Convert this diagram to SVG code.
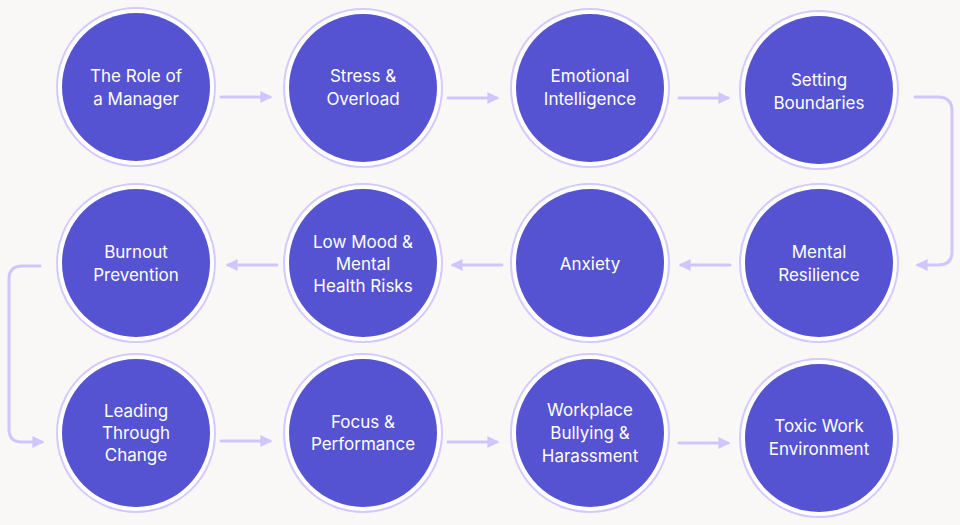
<svg xmlns="http://www.w3.org/2000/svg" width="960" height="525" viewBox="0 0 960 525">
<defs>
<style>
.ring{fill:#ffffff;stroke:#d3caff;stroke-width:2}
.core{fill:#5553d1}
.t{font-family:Inter,"Open Sans",sans-serif;font-size:17px;fill:#ffffff;text-anchor:middle}
.c{fill:none;stroke:#d0c6fd;stroke-width:3;stroke-linecap:round;stroke-linejoin:round}
</style>
<marker id="ah" viewBox="0 0 10 10" refX="8" refY="5" markerWidth="4" markerHeight="4" orient="auto"><path d="M0,0L10,5L0,10z" fill="#d0c6fd"/></marker>
</defs>
<rect width="960" height="525" fill="#f9f8f7"/>
<g id="connectors">
<path class="c" marker-end="url(#ah)" d="M221,97H270"/>
<path class="c" marker-end="url(#ah)" d="M448,98H497"/>
<path class="c" marker-end="url(#ah)" d="M679,98H728"/>
<path class="c" marker-end="url(#ah)" d="M915,97H938Q952,97 952,111V252Q952,265 938,265H918"/>
<path class="c" marker-end="url(#ah)" d="M730,265H681"/>
<path class="c" marker-end="url(#ah)" d="M502,265H453"/>
<path class="c" marker-end="url(#ah)" d="M277,265H228"/>
<path class="c" marker-end="url(#ah)" d="M40,266H22Q9,266 9,279V429Q9,442 22,442H42"/>
<path class="c" marker-end="url(#ah)" d="M221,441H270"/>
<path class="c" marker-end="url(#ah)" d="M448,442H497"/>
<path class="c" marker-end="url(#ah)" d="M679,443H728"/>
</g>
<g id="n1"><circle class="ring" cx="136" cy="87" r="79"/><circle class="core" cx="136" cy="87" r="74"/><text class="t" x="136" y="82">The Role of</text><text class="t" x="136" y="105">a Manager</text></g>
<g id="n2"><circle class="ring" cx="363" cy="88" r="79"/><circle class="core" cx="363" cy="88" r="74"/><text class="t" x="363" y="82">Stress &amp;</text><text class="t" x="363" y="105">Overload</text></g>
<g id="n3"><circle class="ring" cx="590" cy="88" r="79"/><circle class="core" cx="590" cy="88" r="74"/><text class="t" x="590" y="82">Emotional</text><text class="t" x="590" y="105">Intelligence</text></g>
<g id="n4"><circle class="ring" cx="819" cy="90" r="79"/><circle class="core" cx="819" cy="90" r="74"/><text class="t" x="819" y="86">Setting</text><text class="t" x="819" y="109">Boundaries</text></g>
<g id="n5"><circle class="ring" cx="819" cy="263" r="79"/><circle class="core" cx="819" cy="263" r="74"/><text class="t" x="819" y="258">Mental</text><text class="t" x="819" y="281">Resilience</text></g>
<g id="n6"><circle class="ring" cx="590" cy="263" r="79"/><circle class="core" cx="590" cy="263" r="74"/><text class="t" x="590" y="270">Anxiety</text></g>
<g id="n7"><circle class="ring" cx="363" cy="263" r="79"/><circle class="core" cx="363" cy="263" r="74"/><text class="t" x="363" y="248">Low Mood &amp;</text><text class="t" x="363" y="270">Mental</text><text class="t" x="363" y="292">Health Risks</text></g>
<g id="n8"><circle class="ring" cx="136" cy="263" r="79"/><circle class="core" cx="136" cy="263" r="74"/><text class="t" x="136" y="258">Burnout</text><text class="t" x="136" y="281">Prevention</text></g>
<g id="n9"><circle class="ring" cx="136" cy="433" r="79"/><circle class="core" cx="136" cy="433" r="74"/><text class="t" x="136" y="417">Leading</text><text class="t" x="136" y="439">Through</text><text class="t" x="136" y="461">Change</text></g>
<g id="n10"><circle class="ring" cx="363" cy="433" r="79"/><circle class="core" cx="363" cy="433" r="74"/><text class="t" x="363" y="428">Focus &amp;</text><text class="t" x="363" y="450">Performance</text></g>
<g id="n11"><circle class="ring" cx="590" cy="433" r="79"/><circle class="core" cx="590" cy="433" r="74"/><text class="t" x="590" y="416">Workplace</text><text class="t" x="590" y="439">Bullying &amp;</text><text class="t" x="590" y="462">Harassment</text></g>
<g id="n12"><circle class="ring" cx="819" cy="438" r="79"/><circle class="core" cx="819" cy="438" r="74"/><text class="t" x="819" y="432">Toxic Work</text><text class="t" x="819" y="455">Environment</text></g>
</svg>
